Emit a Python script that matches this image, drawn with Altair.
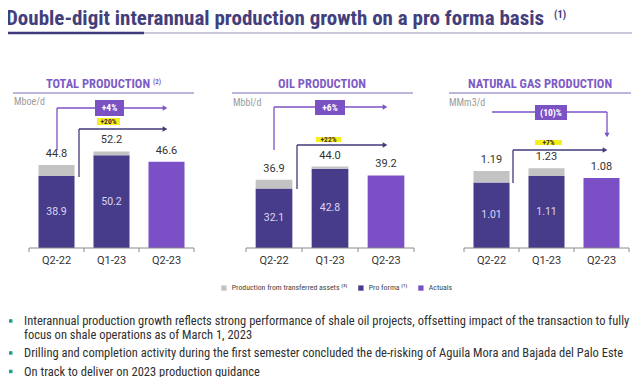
import altair as alt
import pandas as pd

# ---------------- data ----------------
periods = ["Q2-22", "Q1-23", "Q2-23"]
total_all = [44.8, 52.2, 46.6]
total_proforma = [38.9, 50.2]
oil_all = [36.9, 44.0, 39.2]
oil_proforma = [32.1, 42.8]
gas_all = [1.19, 1.23, 1.08]
gas_proforma = [1.01, 1.11]

series_names = ["Production from transferred assets ⁽³⁾", "Pro forma ⁽¹⁾", "Actuals"]
series_colors = ["#c3c3c3", "#473c8a", "#7b4fc5"]

panel_titles = ["TOTAL PRODUCTION", "OIL PRODUCTION", "NATURAL GAS PRODUCTION"]
panel_units = ["Mboe/d", "Mbbl/d", "MMm3/d"]
growth_all = ["+4%", "+6%", "(10)%"]
growth_pf = ["+20%", "+22%", "+7%"]

main_title = "Double-digit interannual production growth on a pro forma basis"
bullets = [
    "Interannual production growth reflects strong performance of shale oil projects, offsetting impact of the transaction to fully",
    "focus on shale operations as of March 1, 2023",
    "Drilling and completion activity during the first semester concluded the de-risking of Aguila Mora and Bajada del Palo Este",
    "On track to deliver on 2023 production guidance",
]

# ---------------- styles ----------------
FONT = "Liberation Sans Narrow, Roboto Condensed, Roboto, sans-serif"
NUMFONT = "Roboto, sans-serif"
C_TITLE = "#433e7c"
C_PTITLE = "#7d5bc6"
C_PLINE = "#a99bd3"
C_A = "#7b52c4"
C_B = "#3f3a7a"
C_HL = "#f6ef1a"
C_TEAL = "#1fa08a"

color_scale = alt.Scale(domain=series_names, range=series_colors)
legend = alt.Legend(orient="none", legendX=212, legendY=276, direction="horizontal",
                    title=None, symbolType="square", symbolSize=28, symbolStrokeWidth=0,
                    labelFontSize=7.8, labelFont=FONT, labelColor="#444",
                    columnPadding=9, labelOffset=4, padding=0)


def bars_df(all_vals, pf_vals):
    rows = []
    for i, p in enumerate(periods):
        if i < len(pf_vals):
            rows.append(dict(period=p, series=series_names[1], lo=0, hi=pf_vals[i]))
            rows.append(dict(period=p, series=series_names[0], lo=pf_vals[i], hi=all_vals[i]))
        else:
            rows.append(dict(period=p, series=series_names[2], lo=0, hi=all_vals[i]))
    return pd.DataFrame(rows)


def panel(all_vals, pf_vals, fmt, xrange, ydomain, yrange):
    xs = alt.Scale(domain=periods, range=xrange, paddingInner=0.345, paddingOuter=0.1725)
    ys = alt.Scale(domain=ydomain, range=yrange, nice=False, zero=True)
    X = alt.X("period:N", scale=xs, axis=None)
    bars = alt.Chart(bars_df(all_vals, pf_vals)).mark_bar().encode(
        x=X, y=alt.Y("hi:Q", scale=ys, axis=None), y2="lo:Q",
        color=alt.Color("series:N", scale=color_scale, legend=legend))
    top_df = pd.DataFrame(dict(period=periods, v=all_vals,
                               lab=[format(v, fmt) for v in all_vals]))
    top = alt.Chart(top_df).mark_text(dy=-11, font=NUMFONT, fontSize=11, color="#333333",
                                      baseline="middle").encode(
        x=X, y=alt.Y("v:Q", scale=ys, axis=None), text="lab:N")
    n = len(pf_vals)
    mid_df = pd.DataFrame(dict(period=periods[:n], v=[v / 2 for v in pf_vals],
                               lab=[format(v, fmt) for v in pf_vals]))
    mid = alt.Chart(mid_df).mark_text(font=NUMFONT, fontSize=10.5, color="#dcd5f5",
                                      baseline="middle").encode(
        x=X, y=alt.Y("v:Q", scale=ys, axis=None), text="lab:N")
    xl = alt.Chart(pd.DataFrame(dict(period=periods))).mark_text(
        font=NUMFONT, fontSize=11, color="#333333", baseline="middle").encode(
        x=X, y=alt.value(253), text="period:N")
    return [bars, top, mid, xl]


layers = []
layers += panel(total_all, total_proforma, ".1f", [21, 186], [0, 100], [240, 55])
layers += panel(oil_all, oil_proforma, ".1f", [238, 406], [0, 100], [240, 55])
layers += panel(gas_all, gas_proforma, ".2f", [456, 621], [0, 2], [240, 110.4])

# ---------------- chrome: lines ----------------
rules = [
    (0, 25, 136, 25, C_B, 2.5), (136, 25, 624, 25, "#9893b5", 1),
    (5, 85, 186, 85, C_PLINE, 1.5), (224, 85, 405, 85, C_PLINE, 1.5), (441, 85, 623, 85, C_PLINE, 1.5),
    (21, 240, 186, 240, "#8a8a8a", 1), (238, 240, 406, 240, "#8a8a8a", 1), (456, 240, 621, 240, "#8a8a8a", 1),
    # arrows panel 1
    (49, 142, 49, 100, C_A, 1.3), (49, 100, 155, 100, C_A, 1.3),
    (71, 169, 71, 121, C_B, 1.3), (71, 121, 155, 121, C_B, 1.3),
    # arrows panel 2
    (266, 142, 266, 99, C_A, 1.3), (266, 99, 375, 99, C_A, 1.3),
    (289, 181, 289, 137, C_B, 1.3), (289, 137, 375, 137, C_B, 1.3),
    # arrows panel 3
    (484, 104, 599, 104, C_A, 1.3), (599, 104, 599, 125, C_A, 1.3),
    (505, 175, 505, 142, C_B, 1.3), (505, 142, 595, 142, C_B, 1.3),
]
for x0, x1 in [(21, 186), (238, 406), (456, 621)]:
    step = (x1 - x0) / 3
    for k in range(4):
        xx = x0 + k * step
        rules.append((xx, 240, xx, 244, "#8a8a8a", 1))
rdf = pd.DataFrame(rules, columns=["x", "y", "x2", "y2", "c", "w"])
layers.append(alt.Chart(rdf).mark_rule().encode(
    x=alt.X("x:Q", scale=None, axis=None), y=alt.Y("y:Q", scale=None, axis=None),
    x2="x2:Q", y2="y2:Q", color=alt.Color("c:N", scale=None),
    strokeWidth=alt.StrokeWidth("w:Q", scale=None)))

# arrowheads
heads = pd.DataFrame([
    (157, 100, C_A, "triangle-right"), (157, 121, C_B, "triangle-right"),
    (377, 99, C_A, "triangle-right"), (377, 137, C_B, "triangle-right"),
    (599, 127, C_A, "triangle-down"), (597, 142, C_B, "triangle-right"),
], columns=["x", "y", "c", "s"])
layers.append(alt.Chart(heads).mark_point(filled=True, size=28, opacity=1).encode(
    x=alt.X("x:Q", scale=None, axis=None), y=alt.Y("y:Q", scale=None, axis=None),
    color=alt.Color("c:N", scale=None), shape=alt.Shape("s:N", scale=None)))

# boxes, highlights, bullet squares
rects = pd.DataFrame([
    (87, 116, 92, 108, C_A), (89, 112, 110, 117, C_HL),
    (307, 337, 92, 107, C_A), (308, 333, 129, 134, C_HL),
    (527, 559, 97, 112, C_A), (527, 554, 132, 137, C_HL),
    (1, 4.5, 311.2, 314.7, C_TEAL), (1, 4.5, 343.2, 346.7, C_TEAL), (1, 4.5, 361.7, 365.2, C_TEAL),
], columns=["x", "x2", "y", "y2", "c"])
layers.append(alt.Chart(rects).mark_rect().encode(
    x=alt.X("x:Q", scale=None, axis=None), x2="x2:Q",
    y=alt.Y("y:Q", scale=None, axis=None), y2="y2:Q",
    color=alt.Color("c:N", scale=None)))


def texts(rows, **kw):
    df = pd.DataFrame(rows, columns=["x", "y", "t", "c", "s"])
    return alt.Chart(df).mark_text(**kw).encode(
        x=alt.X("x:Q", scale=None, axis=None), y=alt.Y("y:Q", scale=None, axis=None),
        text="t:N", color=alt.Color("c:N", scale=None), size=alt.Size("s:Q", scale=None))


# panel titles
layers.append(texts([
    (90, 80, panel_titles[0], C_PTITLE, 12.5),
    (314, 80, panel_titles[1], C_PTITLE, 12.5),
    (532, 80, panel_titles[2], C_PTITLE, 12.5),
], font=FONT, fontWeight="bold", align="center", baseline="alphabetic"))
# growth boxes and highlights
layers.append(texts([
    (101.5, 100, growth_all[0], "#ffffff", 9.5),
    (322, 99.5, growth_all[1], "#ffffff", 9.5),
    (543, 104.5, growth_all[2], "#ffffff", 9.5),
    (100.5, 113.8, growth_pf[0], "#333333", 7.5),
    (320.5, 131.8, growth_pf[1], "#333333", 7.5),
    (540.5, 134.8, growth_pf[2], "#333333", 7.5),
], font=FONT, fontWeight="bold", align="center", baseline="middle"))
# main title + superscripts
layers.append(texts([
    (-2, 16.5, main_title, C_TITLE, 21),
    (546, 10, "(1)", C_TITLE, 10.5),
    (145, 76, "(2)", C_PTITLE, 7),
], font=FONT, fontWeight="bold", align="left", baseline="alphabetic"))
# units and bullets
layers.append(texts([
    (6, 94, panel_units[0], "#9b9b9b", 10),
    (225, 95, panel_units[1], "#9b9b9b", 10),
    (441, 95, panel_units[2], "#9b9b9b", 10),
    (16, 313, bullets[0], "#2f2f2f", 12.5),
    (16, 327, bullets[1], "#2f2f2f", 12.5),
    (16, 345, bullets[2], "#2f2f2f", 12.5),
    (16, 363.5, bullets[3], "#2f2f2f", 12.5),
], font=FONT, align="left", baseline="middle"))

chart = alt.layer(*layers).resolve_scale(
    x="independent", y="independent"
).properties(
    width=624, height=369, padding=0,
    autosize=alt.AutoSizeParams(type="none"),
).configure_view(stroke=None)

chart.save("out.html", embed_options={"renderer": "svg", "actions": False})
